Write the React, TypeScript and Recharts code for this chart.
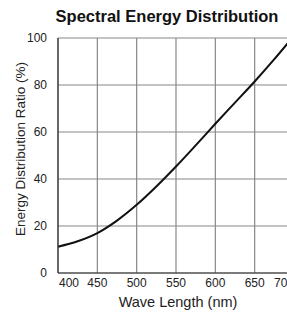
import React from "react";
import { LineChart, Line, XAxis, YAxis, CartesianGrid } from "recharts";

const wavelengths = [400, 425, 450, 475, 500, 525, 550, 575, 600, 625, 650, 675, 700];
const ratios = [11.2, 13.5, 17, 22.3, 29, 36.8, 45.3, 54.3, 63.5, 72.5, 81.5, 91, 101];
const xTicks = [400, 450, 500, 550, 600, 650, 700];
const yTicks = [0, 20, 40, 60, 80, 100];

const data = wavelengths.map((w, i) => ({ w, r: ratios[i] }));

const FONT = "'Liberation Sans', Arial, sans-serif";

const XTick = (props: any) => {
  const { x, y, payload } = props;
  const v = payload.value;
  let anchor: "start" | "middle" | "end" = "middle";
  if (v === 400) anchor = "start";
  if (v === 700) anchor = "end";
  return (
    <text x={v === 400 ? x + 1 : x} y={y + 6} textAnchor={anchor} fontSize={12} fill="#222" fontFamily={FONT}>
      {v}
    </text>
  );
};

const YTick = (props: any) => {
  const { x, y, payload } = props;
  return (
    <text x={x - 3} y={y + 4} textAnchor="end" fontSize={12} fill="#222" fontFamily={FONT}>
      {payload.value}
    </text>
  );
};

export default function App() {
  return (
    <div
      style={{
        position: "absolute",
        left: 0,
        top: 0,
        width: 287,
        height: 313,
        overflow: "hidden",
        background: "#fff",
      }}
    >
      <svg width={287} height={313} style={{ position: "absolute", left: 0, top: 0, pointerEvents: "none", zIndex: 2 }}>
        <text x={167} y={22} textAnchor="middle" fontSize={16.5} fontWeight="bold" fill="#111" fontFamily={FONT}>
          Spectral Energy Distribution
        </text>
        <text
          x={25}
          y={149}
          textAnchor="middle"
          fontSize={13.5}
          fill="#222"
          fontFamily={FONT}
          transform="rotate(-90 25 149)"
        >
          Energy Distribution Ratio (%)
        </text>
        <text x={178} y={307} textAnchor="middle" fontSize={14.5} fill="#222" fontFamily={FONT}>
          Wave Length (nm)
        </text>
      </svg>
      <LineChart
        width={310}
        height={313}
        data={data}
        margin={{ top: 38, right: 16, bottom: 0, left: 0 }}
      >
        <CartesianGrid stroke="#888" strokeWidth={1.2} />
        <XAxis
          dataKey="w"
          type="number"
          domain={[400, 700]}
          ticks={xTicks}
          tick={<XTick />}
          tickLine={false}
          axisLine={{ stroke: "#333", strokeWidth: 1.2 }}
          height={40}
          interval={0}
        />
        <YAxis
          type="number"
          domain={[0, 100]}
          ticks={yTicks}
          tick={<YTick />}
          tickLine={false}
          axisLine={{ stroke: "#333", strokeWidth: 1.2 }}
          width={58}
          allowDataOverflow
        />
        <Line
          dataKey="r"
          type="monotone"
          stroke="#111"
          strokeWidth={2}
          dot={false}
          isAnimationActive={false}
        />
      </LineChart>
    </div>
  );
}
